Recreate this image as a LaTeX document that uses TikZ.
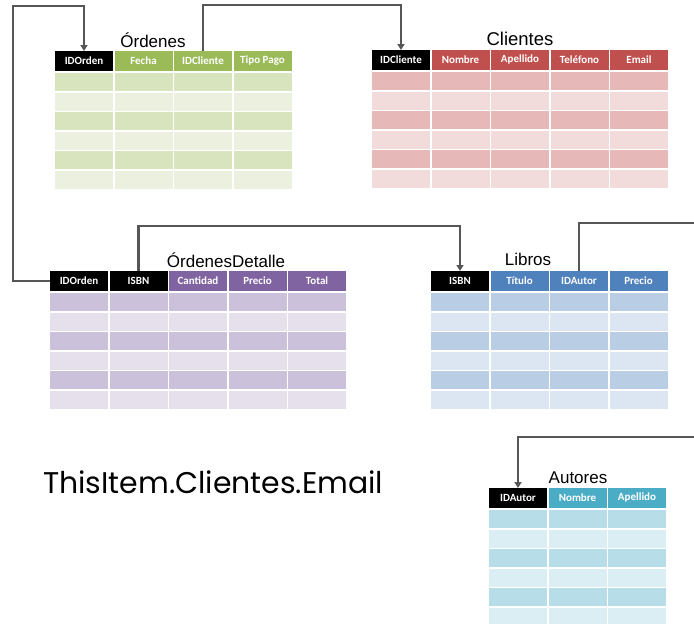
\documentclass[tikz,border=0pt]{standalone}
\usepackage{fontspec}
\usepackage{graphicx}
\setmainfont{Liberation Sans}
\newfontfamily\hdrfont{Carlito}[BoldFont={Carlito Bold}]
\newfontfamily\bigfont{Poppins}
\usetikzlibrary{arrows.meta}
\definecolor{conncol}{HTML}{565656}
\definecolor{gH}{HTML}{9BBB59}\definecolor{gD}{HTML}{D7E4BD}\definecolor{gL}{HTML}{EBF1DE}
\definecolor{rH}{HTML}{C0504D}\definecolor{rD}{HTML}{E6B9B8}\definecolor{rL}{HTML}{F2DCDB}
\definecolor{pH}{HTML}{8064A2}\definecolor{pD}{HTML}{CCC1DA}\definecolor{pL}{HTML}{E5E0EC}
\definecolor{bH}{HTML}{4F81BD}\definecolor{bD}{HTML}{B9CDE5}\definecolor{bL}{HTML}{DCE6F2}
\definecolor{aH}{HTML}{4BACC6}\definecolor{aD}{HTML}{B7DEE8}\definecolor{aL}{HTML}{DBEEF4}
\tikzset{
  hdr/.style={inner sep=0pt, outer sep=0pt, minimum width=58pt, minimum height=20pt,
    text=white, font=\hdrfont\bfseries\fontsize{11}{12}\selectfont},
  ttl/.style={inner sep=0pt, anchor=base, font=\fontsize{17}{20}\selectfont},
  conn/.style={draw=conncol, line width=2.2pt},
  arr/.style={-{Triangle[width=7pt,length=6pt]}}
}
% #1 prefix, #2 x0, #3 y0, #4 header col, #5 dark, #6 light, #7 headers, #8 black cols
\newcommand{\dbtable}[8]{%
  \foreach \h [count=\i from 1] in {#7} {
    \pgfmathsetmacro\xx{#2+(\i-1)*59.5}
    \ifnum\i>#8 \def\hc{#4}\else\def\hc{black}\fi
    \node[hdr, fill=\hc, anchor=north west] (#1\i) at (\xx,#3) {\h};
    \foreach \j in {0,...,5} {
      \pgfmathsetmacro\yy{#3+22+\j*19.5}
      \ifodd\j \def\rc{#6}\else\def\rc{#5}\fi
      \fill[\rc] (\xx,\yy) rectangle ++(58,18);
    }
  }%
}
\begin{document}
\begin{tikzpicture}[x=1pt,y=-1pt]
\useasboundingbox (0,0) rectangle (694,624);
\fill[white] (0,0) rectangle (694,624);

\dbtable{o}{55}{51}{gH}{gD}{gL}{IDOrden,Fecha,IDCliente,Tipo Pago}{1}
\dbtable{c}{372}{50}{rH}{rD}{rL}{IDCliente,Nombre,Apellido,Teléfono,Email}{1}
\dbtable{d}{50}{271}{pH}{pD}{pL}{IDOrden,ISBN,Cantidad,Precio,Total}{2}
\dbtable{l}{431}{271}{bH}{bD}{bL}{ISBN,Título,IDAutor,Precio}{1}
\dbtable{a}{489}{488}{aH}{aD}{aL}{IDAutor,Nombre,Apellido}{1}

\node[ttl] (tO) at (153,47) {Órdenes};
\node[ttl, font=\fontsize{18.5}{22}\selectfont] (tC) at (520,45) {Clientes};
\node[ttl] (tD) at (226,267) {ÓrdenesDetalle};
\node[ttl] (tL) at (528,265) {Libros};
\node[ttl] (tA) at (578,483) {Autores};

\node[inner sep=0pt, anchor=base west] (expr) at (43,493)
  {\resizebox{340pt}{!}{\bigfont ThisItem.Clientes.Email}};

\coordinate (k1) at (13,6);
\coordinate (k2) at (300,5);
\coordinate (k3) at (300,226);
\coordinate (k4) at (694,223);
\coordinate (k5) at (694,437);

\draw[conn, arr] (d1.west) -| (k1) -| (o1.north);
\draw[conn, arr] (o3.north) |- (k2) -| (c1.north);
\draw[conn, arr] (d2.north) |- (k3) -| (l1.north);
\draw[conn] (l3.north) |- (k4);
\draw[conn, arr] (k5) -| (a1.north);
\end{tikzpicture}
\end{document}
